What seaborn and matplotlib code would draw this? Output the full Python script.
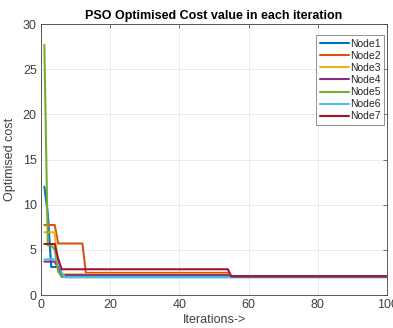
import numpy as np
import pandas as pd
import matplotlib
matplotlib.use("Agg")
import matplotlib.pyplot as plt
import seaborn as sns

nodes = ["Node1", "Node2", "Node3", "Node4", "Node5", "Node6", "Node7"]
colors = ["#0072BD", "#D95319", "#EDB120", "#7E2F8E", "#77AC30", "#4DBEEE", "#A2142F"]

# piecewise-constant best cost per node: (values, number of iterations each value holds)
node1_vals = [12.0, 9.0, 3.1, 2.05]
node1_runs = [1, 1, 3, 95]
node2_vals = [7.75, 5.7, 2.45, 2.05]
node2_runs = [4, 8, 42, 46]
node3_vals = [6.95, 2.7, 2.3, 2.1]
node3_runs = [4, 1, 49, 46]
node4_vals = [3.7, 3.0, 2.2, 2.1]
node4_runs = [4, 1, 49, 46]
node5_vals = [27.7, 5.5, 5.0, 2.6, 2.0]
node5_runs = [1, 2, 1, 1, 95]
node6_vals = [3.95, 2.5, 1.95]
node6_runs = [5, 1, 94]
node7_vals = [5.65, 4.0, 2.85, 2.05]
node7_runs = [4, 1, 49, 46]

node_vals = [node1_vals, node2_vals, node3_vals, node4_vals, node5_vals, node6_vals, node7_vals]
node_runs = [node1_runs, node2_runs, node3_runs, node4_runs, node5_runs, node6_runs, node7_runs]

rows = []
for name, vals, runs in zip(nodes, node_vals, node_runs):
    series = np.repeat(vals, runs)
    for i, v in enumerate(series, start=1):
        rows.append({"Iteration": i, "Cost": v, "Node": name})
df = pd.DataFrame(rows)

sns.set_style("white")
plt.rcParams['font.family'] = ['Liberation Sans', 'DejaVu Sans']

fig = plt.figure(figsize=(3.93, 3.28), dpi=100)
ax = fig.add_axes([0.104, 0.1006, 0.881, 0.826])

sns.lineplot(data=df, x="Iteration", y="Cost", hue="Node", palette=colors,
             linewidth=1.5, ax=ax, legend=True)

ax.set_xlim(0, 100)
ax.set_ylim(0, 30)
ax.set_xticks([0, 20, 40, 60, 80, 100])
ax.set_yticks([0, 5, 10, 15, 20, 25, 30])
ax.grid(True, color="#e8e8e8", linewidth=0.6)
ax.set_axisbelow(True)
for s in ax.spines.values():
    s.set_color("#404040")
    s.set_linewidth(0.6)
ax.tick_params(direction="in", length=3, width=0.5, labelsize=9, colors="#404040",
               top=True, right=True, labelcolor="#404040", pad=3)
ax.set_xlabel("Iterations->", fontsize=9, color="#404040", labelpad=2)
ax.set_ylabel("Optimised cost", fontsize=9, color="#404040", labelpad=5)
ax.set_title("PSO Optimised Cost value in each iteration", fontsize=9,
             fontweight="bold", color="#000000", pad=4)

leg = ax.legend(loc="upper right", bbox_to_anchor=(0.991, 0.959), fontsize=7.5,
                frameon=True, fancybox=False, handlelength=2.8, handletextpad=0.1,
                borderpad=0.35, labelspacing=0.2, borderaxespad=0)
leg.get_frame().set_edgecolor("#404040")
leg.get_frame().set_linewidth(0.5)
for text in leg.get_texts():
    text.set_color("#262626")
for line in leg.get_lines():
    line.set_linewidth(1.5)

fig.savefig("out.png", dpi=100)
